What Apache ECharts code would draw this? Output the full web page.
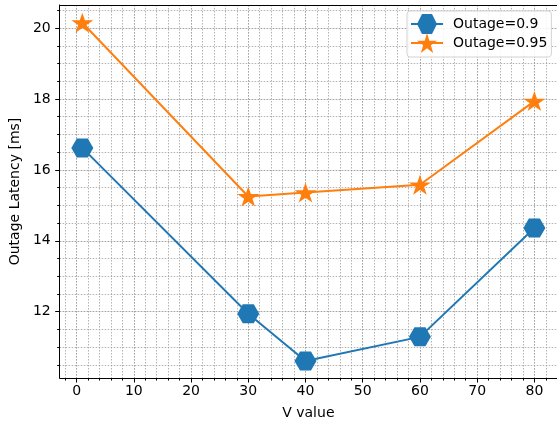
<!DOCTYPE html>
<html>
<head>
<meta charset="utf-8">
<script src="https://cdn.jsdelivr.net/npm/echarts@6/dist/echarts.min.js"></script>
<style>html,body{margin:0;padding:0;background:#fff}#c{width:557px;height:425px}</style>
</head>
<body>
<div id="c"></div>
<script>
var vValues = [1, 30, 40, 60, 80];
var outage090 = [16.62, 11.94, 10.61, 11.29, 14.36];
var outage095 = [20.15, 15.25, 15.36, 15.58, 17.94];
var xMajorTicks = [0, 10, 20, 30, 40, 50, 60, 70, 80];
var xMinorTicks = [-2, 0, 2, 4, 6, 8, 10, 12, 14, 16, 18, 20, 22, 24, 26, 28, 30, 32, 34, 36, 38, 40, 42, 44, 46, 48, 50, 52, 54, 56, 58, 60, 62, 64, 66, 68, 70, 72, 74, 76, 78, 80, 82];
var yMajorTicks = [12, 14, 16, 18, 20];
var yMinorTicks = [10.5, 11, 11.5, 12, 12.5, 13, 13.5, 14, 14.5, 15, 15.5, 16, 16.5, 17, 17.5, 18, 18.5, 19, 19.5, 20, 20.5];

var xMin = -2.95, xMax = 83.95, yMin = 10.13, yMax = 20.65;
var font = 'DejaVu Sans';
var gridLine = {show: true, lineStyle: {color: '#a0a0a0', width: 0.8, type: [1.5, 1.5]}};
var hexPath = 'path://M0,0.866L0.5,0L1.5,0L2,0.866L1.5,1.732L0.5,1.732Z';
var starPath = 'path://M1,0L1.2245,0.691L1.951,0.691L1.363,1.118L1.588,1.809L1,1.382L0.412,1.809L0.637,1.118L0.049,0.691L0.7755,0.691Z';

function pairs(xs, ys) { return xs.map(function (x, i) { return [x, ys[i]]; }); }

var chart = echarts.init(document.getElementById('c'), null, {renderer: 'canvas'});
chart.setOption({
  animation: false,
  grid: {left: 57, top: 5, width: 501, height: 374, containLabel: false},
  legend: {
    orient: 'vertical', left: 407, top: 11,
    padding: [3, 4, 4, 3],
    itemWidth: 32, itemHeight: 25, itemGap: -1,
    backgroundColor: 'rgba(255,255,255,0.85)',
    borderColor: '#d3d3d3', borderWidth: 1, borderRadius: 3,
    textStyle: {fontFamily: font, fontSize: 14, color: '#000', padding: [0, 0, 0, 5]},
    data: ['Outage=0.9', 'Outage=0.95']
  },
  xAxis: [
    {
      type: 'value', min: xMin, max: xMax, position: 'bottom',
      axisLine: {show: true, onZero: false, lineStyle: {color: '#000', width: 1}},
      axisTick: {show: true, length: 4.5, customValues: xMajorTicks, lineStyle: {color: '#000', width: 1}},
      axisLabel: {show: true, customValues: xMajorTicks, margin: 6, fontFamily: font, fontSize: 14, color: '#000'},
      splitLine: gridLine,
      name: 'V value', nameLocation: 'middle', nameGap: 28,
      nameTextStyle: {fontFamily: font, fontSize: 14, color: '#000'}
    },
    {
      type: 'value', min: xMin, max: xMax, position: 'bottom',
      axisLine: {show: false, onZero: false},
      axisTick: {show: true, length: 2.5, customValues: xMinorTicks, lineStyle: {color: '#000', width: 1}},
      axisLabel: {show: false},
      splitLine: gridLine
    },
    {
      type: 'value', min: xMin, max: xMax, position: 'top',
      axisLine: {show: true, onZero: false, lineStyle: {color: '#000', width: 1}},
      axisTick: {show: false}, axisLabel: {show: false}, splitLine: {show: false}
    }
  ],
  yAxis: [
    {
      type: 'value', min: yMin, max: yMax, position: 'left',
      axisLine: {show: true, onZero: false, lineStyle: {color: '#000', width: 1}},
      axisTick: {show: true, length: 4.5, customValues: yMajorTicks, lineStyle: {color: '#000', width: 1}},
      axisLabel: {show: true, customValues: yMajorTicks, margin: 9, fontFamily: font, fontSize: 14, color: '#000'},
      splitLine: gridLine,
      name: 'Outage Latency [ms]', nameLocation: 'middle', nameGap: 31, nameRotate: 90,
      nameTextStyle: {fontFamily: font, fontSize: 14, color: '#000'}
    },
    {
      type: 'value', min: yMin, max: yMax, position: 'left',
      axisLine: {show: false, onZero: false},
      axisTick: {show: true, length: 2.5, customValues: yMinorTicks, lineStyle: {color: '#000', width: 1}},
      axisLabel: {show: false},
      splitLine: gridLine
    }
  ],
  series: [
    {
      name: 'Outage=0.9', type: 'line', xAxisIndex: 0, yAxisIndex: 0,
      data: pairs(vValues, outage090),
      symbol: hexPath, symbolSize: [22, 19],
      lineStyle: {color: '#1f77b4', width: 2},
      itemStyle: {color: '#1f77b4', borderWidth: 0},
      z: 3
    },
    {
      name: 'Outage=0.95', type: 'line', xAxisIndex: 0, yAxisIndex: 0,
      data: pairs(vValues, outage095),
      symbol: starPath, symbolSize: [22, 20],
      lineStyle: {color: '#ff7f0e', width: 2},
      itemStyle: {color: '#ff7f0e', borderWidth: 0},
      z: 4
    }
  ]
});
</script>
</body>
</html>
